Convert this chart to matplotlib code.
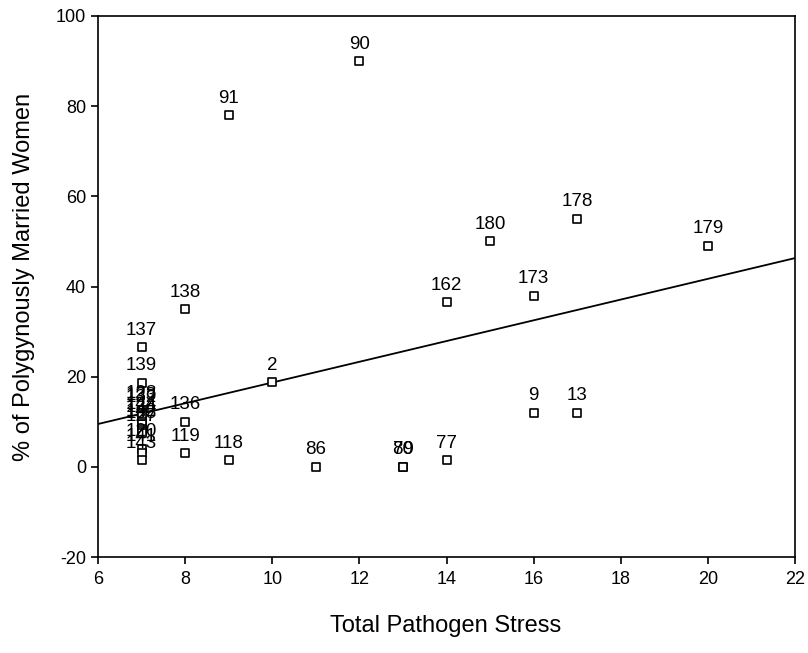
import matplotlib
matplotlib.use("Agg")
from matplotlib import pyplot as plt
import numpy as np

plt.rcParams['font.family'] = ['Liberation Sans', 'DejaVu Sans']
plt.rcParams['axes.unicode_minus'] = False

# societies: case number, total pathogen stress, % polygynously married women
case_ids = [90, 91, 178, 180, 179, 162, 173, 138, 137, 139, 2, 136, 9, 13,
            119, 118, 86, 80, 79, 77,
            128, 133, 132, 144, 134, 142, 135, 127, 120, 141, 143]
pathogen = [12, 9, 17, 15, 20, 14, 16, 8, 7, 7, 10, 8, 16, 17,
            8, 9, 11, 13, 13, 14,
            7, 7, 7, 7, 7, 7, 7, 7, 7, 7, 7]
polygyny = [90, 78, 55, 50, 49, 36.5, 38, 35, 26.5, 18.7, 18.8, 10, 12, 12,
            3, 1.5, 0, 0, 0, 1.5,
            12.5, 12, 11.5, 10, 9.5, 8.5, 8, 7.5, 4, 3, 1.5]

# fitted regression line
fit_intercept = -4.3
fit_slope = 2.3

fig = plt.figure(figsize=(8.08, 6.53), dpi=100)
ax = fig.add_axes([0.1213, 0.147, 0.8626, 0.8285])

xs = np.array([6, 22])
ax.plot(xs, fit_intercept + fit_slope * xs, color='black', lw=1.3, zorder=2)

ax.scatter(pathogen, polygyny, marker='s', s=32, facecolors='white',
           edgecolors='black', linewidths=1.2, zorder=3)
for cid, x, y in zip(case_ids, pathogen, polygyny):
    ax.annotate(str(cid), (x, y), xytext=(0, 9), textcoords='offset points',
                ha='center', va='baseline', fontsize=13.5, zorder=4)

ax.set_xlim(6, 22)
ax.set_ylim(-20, 100)
ax.set_xticks(range(6, 23, 2))
ax.set_yticks(range(-20, 101, 20))
ax.tick_params(direction='out', length=5, width=1.2, labelsize=13)
ax.tick_params(axis='x', pad=5)
for s in ax.spines.values():
    s.set_linewidth(1.2)

ax.set_xlabel('Total Pathogen Stress', fontsize=17)
ax.xaxis.set_label_coords(0.499, -0.108)
ax.set_ylabel('% of Polygynously Married Women', fontsize=17)
ax.yaxis.set_label_coords(-0.09, 0.517)

fig.savefig('out.png', dpi=100)
